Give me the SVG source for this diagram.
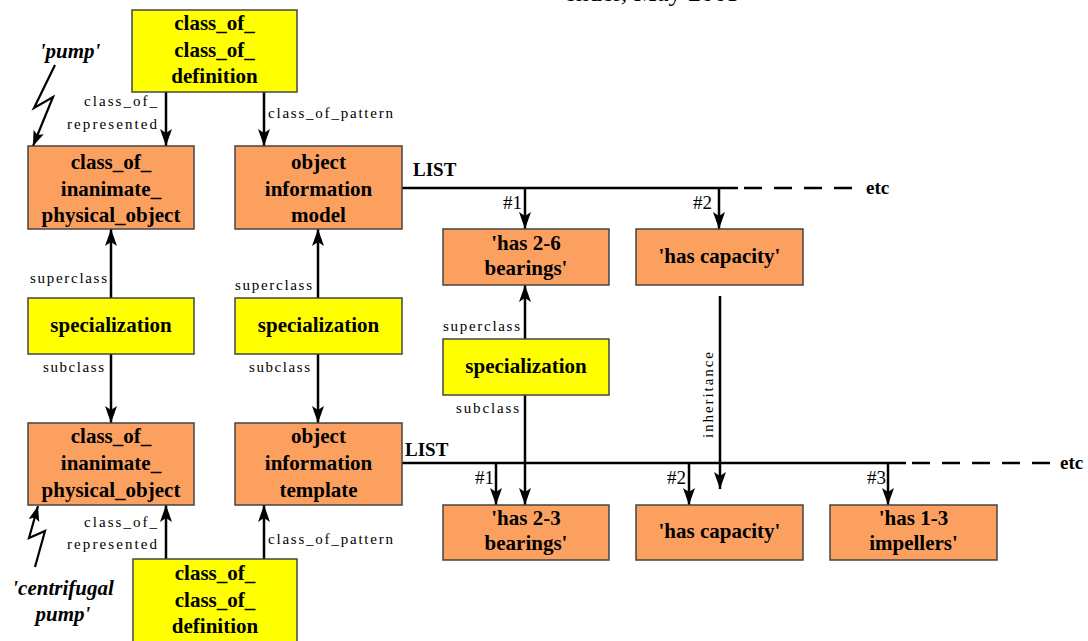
<svg xmlns="http://www.w3.org/2000/svg" width="1088" height="641" viewBox="0 0 1088 641">
<defs>
<marker id="ah" markerUnits="userSpaceOnUse" markerWidth="18" markerHeight="12" refX="17" refY="6" orient="auto">
<path d="M0,0 L17,6 L0,12 L4,6 z" fill="#000"/>
</marker>
<marker id="ahs" markerUnits="userSpaceOnUse" markerWidth="16" markerHeight="12" refX="15" refY="6" orient="auto">
<path d="M0,0.5 L15,6 L0,11.5 L3,6 z" fill="#000"/>
</marker>
<style>
.y{fill:#ffff00;stroke:#444;stroke-width:1.5}
.o{fill:#fca060;stroke:#444;stroke-width:1.5}
.bt{font-weight:bold;font-size:21px;fill:#000;text-anchor:middle}
.lb{font-size:15px;fill:#000}
.it{font-weight:bold;font-style:italic;font-size:21px;fill:#000;text-anchor:middle}
.hd{font-weight:bold;font-size:19px;fill:#000}
.nm{font-size:19px;fill:#000;text-anchor:end}
.ln{stroke:#000;stroke-width:2.5;fill:none}
.ar{stroke:#000;stroke-width:2.5;fill:none;marker-end:url(#ah)}
.dash{stroke:#000;stroke-width:2.5;fill:none;stroke-dasharray:18,12}
</style>
</defs>
<rect width="1088" height="641" fill="#fff"/>
<g font-family="'Liberation Serif', serif">
<text x="740" y="1" font-size="26" text-anchor="end">ender, May 2003</text>

<g id="connectors">
<line class="ar" x1="166" y1="92" x2="166" y2="146"/>
<line class="ar" x1="264" y1="92" x2="264" y2="146"/>
<line class="ar" x1="111" y1="298" x2="111" y2="229"/>
<line class="ar" x1="111" y1="354" x2="111" y2="423"/>
<line class="ar" x1="318" y1="298" x2="318" y2="229"/>
<line class="ar" x1="318" y1="354" x2="318" y2="423"/>
<line class="ar" x1="166" y1="559" x2="166" y2="505"/>
<line class="ar" x1="264" y1="559" x2="264" y2="505"/>
<line class="ln" x1="402" y1="188" x2="738" y2="188"/>
<line class="dash" x1="744" y1="188" x2="858" y2="188"/>
<line class="ar" x1="525" y1="188" x2="525" y2="229"/>
<line class="ar" x1="719" y1="188" x2="719" y2="229"/>
<line class="ar" x1="525" y1="339" x2="525" y2="285"/>
<line class="ar" x1="525" y1="395" x2="525" y2="505"/>
<line class="ar" x1="720" y1="296" x2="720" y2="489"/>
<line class="ln" x1="402" y1="463" x2="906" y2="463"/>
<line class="dash" x1="912" y1="463" x2="1054" y2="463"/>
<line class="ar" x1="496" y1="463" x2="496" y2="505"/>
<line class="ar" x1="689" y1="463" x2="689" y2="505"/>
<line class="ar" x1="888" y1="463" x2="888" y2="505"/>
<polyline fill="none" stroke="#000" stroke-width="2.2" marker-end="url(#ahs)" points="55,65 34,108 53,97 33,146"/>
<polyline fill="none" stroke="#000" stroke-width="2.2" marker-end="url(#ahs)" points="35,567 45,531 29,538 38,506"/>
<text class="lb" x="157" y="106" text-anchor="end" textLength="73">class_of_</text>
<text class="lb" x="157" y="129" text-anchor="end" textLength="90">represented</text>
<text class="lb" x="268" y="118" textLength="125">class_of_pattern</text>
<text class="lb" x="30" y="283" textLength="77">superclass</text>
<text class="lb" x="43" y="372" textLength="61">subclass</text>
<text class="lb" x="235" y="290" textLength="77">superclass</text>
<text class="lb" x="249" y="372" textLength="61">subclass</text>
<text class="lb" x="157" y="527" text-anchor="end" textLength="73">class_of_</text>
<text class="lb" x="157" y="549" text-anchor="end" textLength="90">represented</text>
<text class="lb" x="268" y="544" textLength="125">class_of_pattern</text>
<text class="lb" x="443" y="331" textLength="77">superclass</text>
<text class="lb" x="456" y="413" textLength="63">subclass</text>
<text class="lb" transform="translate(713,438) rotate(-90)" textLength="86">inheritance</text>
<text class="hd" x="413" y="176">LIST</text>
<text class="hd" x="866" y="194">etc</text>
<text class="hd" x="405" y="456">LIST</text>
<text class="hd" x="1060" y="469">etc</text>
<text class="nm" x="522" y="209">#1</text>
<text class="nm" x="712" y="209">#2</text>
<text class="nm" x="494" y="484">#1</text>
<text class="nm" x="686" y="484">#2</text>
<text class="nm" x="886" y="484">#3</text>
<text class="it" x="70" y="58">'pump'</text>
<text class="it" x="63" y="595">'centrifugal</text>
<text class="it" x="63" y="621">pump'</text>
</g>

<g id="ccd-top">
<rect class="y" x="132" y="10" width="165" height="82"/>
<text class="bt" x="214.5" y="30">class_of_</text>
<text class="bt" x="214.5" y="57">class_of_</text>
<text class="bt" x="214.5" y="83">definition</text>
</g>
<g id="ciapo-top">
<rect class="o" x="28" y="146" width="166" height="83"/>
<text class="bt" x="111" y="169">class_of_</text>
<text class="bt" x="111" y="196">inanimate_</text>
<text class="bt" x="111" y="222">physical_object</text>
</g>
<g id="oim">
<rect class="o" x="235" y="146" width="167" height="83"/>
<text class="bt" x="318.5" y="169">object</text>
<text class="bt" x="318.5" y="196">information</text>
<text class="bt" x="318.5" y="222">model</text>
</g>
<g id="spec1">
<rect class="y" x="28" y="298" width="166" height="56"/>
<text class="bt" x="111" y="332">specialization</text>
</g>
<g id="spec2">
<rect class="y" x="235" y="298" width="167" height="56"/>
<text class="bt" x="318.5" y="332">specialization</text>
</g>
<g id="ciapo-bottom">
<rect class="o" x="28" y="423" width="166" height="82"/>
<text class="bt" x="111" y="443">class_of_</text>
<text class="bt" x="111" y="470">inanimate_</text>
<text class="bt" x="111" y="497">physical_object</text>
</g>
<g id="oit">
<rect class="o" x="235" y="423" width="167" height="82"/>
<text class="bt" x="318.5" y="443">object</text>
<text class="bt" x="318.5" y="470">information</text>
<text class="bt" x="318.5" y="497">template</text>
</g>
<g id="ccd-bottom">
<rect class="y" x="133" y="559" width="164" height="90"/>
<text class="bt" x="215" y="580">class_of_</text>
<text class="bt" x="215" y="607">class_of_</text>
<text class="bt" x="215" y="633">definition</text>
</g>
<g id="has26">
<rect class="o" x="443" y="229" width="166" height="56"/>
<text class="bt" x="526" y="250">'has 2-6</text>
<text class="bt" x="526" y="275">bearings'</text>
</g>
<g id="hascap-top">
<rect class="o" x="636" y="229" width="167" height="56"/>
<text class="bt" x="719.5" y="263">'has capacity'</text>
</g>
<g id="spec3">
<rect class="y" x="443" y="339" width="166" height="56"/>
<text class="bt" x="526" y="373">specialization</text>
</g>
<g id="has23">
<rect class="o" x="443" y="505" width="166" height="55"/>
<text class="bt" x="526" y="525">'has 2-3</text>
<text class="bt" x="526" y="550">bearings'</text>
</g>
<g id="hascap-bottom">
<rect class="o" x="636" y="505" width="167" height="55"/>
<text class="bt" x="719.5" y="538">'has capacity'</text>
</g>
<g id="has13">
<rect class="o" x="830" y="505" width="167" height="55"/>
<text class="bt" x="913.5" y="525">'has 1-3</text>
<text class="bt" x="913.5" y="550">impellers'</text>
</g>
</g>
</svg>
